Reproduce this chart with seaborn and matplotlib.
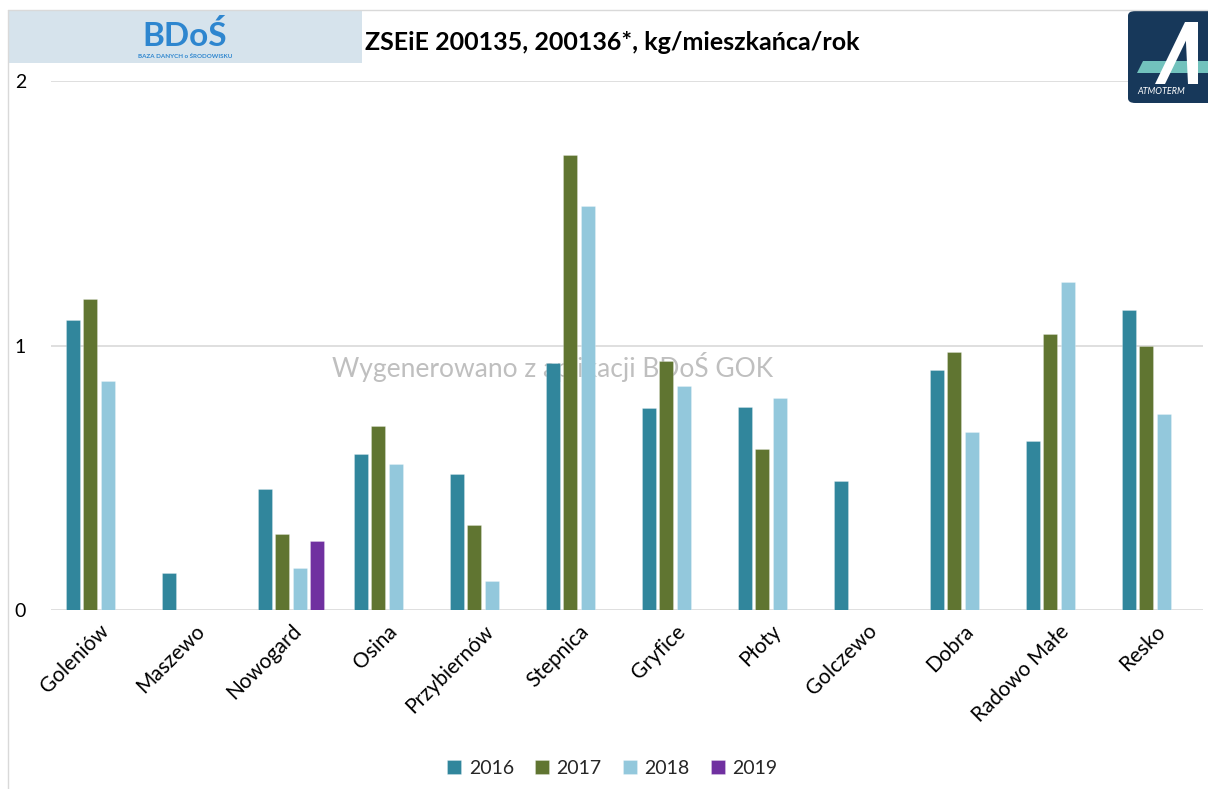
import numpy as np
import pandas as pd
import matplotlib.pyplot as plt
import seaborn as sns
from matplotlib.patches import Rectangle, FancyBboxPatch, Polygon

## Data (kg/mieszkanca/rok), NaN = no bar
gminy = ["Goleniów", "Maszewo", "Nowogard", "Osina", "Przybiernów", "Stepnica",
         "Gryfice", "Płoty", "Golczewo", "Dobra", "Radowo Małe", "Resko"]
years = ["2016", "2017", "2018", "2019"]
v2016 = [1.095, 0.14, 0.458, 0.591, 0.515, 0.932, 0.765, 0.769, 0.489, 0.909, 0.640, 1.136]
v2017 = [1.174, np.nan, 0.288, 0.697, 0.322, 1.720, 0.943, 0.610, np.nan, 0.977, 1.042, 1.000]
v2018 = [0.864, np.nan, 0.159, 0.553, 0.110, 1.527, 0.845, 0.803, np.nan, 0.674, 1.239, 0.742]
v2019 = [np.nan, np.nan, 0.261, np.nan, np.nan, np.nan, np.nan, np.nan, np.nan, np.nan, np.nan, np.nan]
colors = ["#31869C", "#607531", "#93C8DC", "#7030A0"]

df = pd.DataFrame({"gmina": gminy, "2016": v2016, "2017": v2017, "2018": v2018, "2019": v2019})
df = df.melt(id_vars="gmina", var_name="rok", value_name="wartosc").dropna()

sns.set_style("white")
plt.rcParams['font.family'] = ['Lato', 'DejaVu Sans']

fig = plt.figure(figsize=(12.08, 7.89), dpi=100)
ax = fig.add_axes([0.0422, 0.2269, 0.9537, 0.6704])

# watermark behind bars
ax.text(0.435, 0.459, "Wygenerowano z aplikacji BDoŚ GOK", transform=ax.transAxes,
        ha="center", va="center", fontsize=19, color="#BFBFBF", zorder=0.5)

sns.barplot(data=df, x="gmina", y="wartosc", hue="rok", order=gminy, hue_order=years,
            palette=colors, width=0.73, gap=0.2, edgecolor=(1, 1, 1, 0.35), linewidth=0.5,
            saturation=1, ax=ax, zorder=2)

ax.set_ylim(0, 2)
ax.set_xlim(-0.5, len(gminy) - 0.5)
ax.set_yticks([0, 1, 2])
ax.yaxis.grid(True, color="#D9D9D9", linewidth=1.2)
ax.set_axisbelow(True)
for s in ax.spines.values():
    s.set_visible(False)
ax.tick_params(axis="both", length=0, colors="#000000")
ax.tick_params(axis="y", pad=18, labelsize=14)
ax.tick_params(axis="x", pad=8, labelsize=15)
ax.set_xlabel("")
ax.set_ylabel("")
plt.setp(ax.get_xticklabels(), rotation=45, ha="right", rotation_mode="anchor")

leg = ax.legend(loc="center", bbox_to_anchor=(0.507, 1 - 768 / 789), bbox_transform=fig.transFigure,
                ncol=4, frameon=False, fontsize=14, handlelength=0.7, handleheight=0.7,
                columnspacing=1.1, handletextpad=0.4)

# title
fig.text(0.507, 0.946, "ZSEiE 200135, 200136*, kg/mieszkańca/rok", ha="center", va="center",
         fontsize=18, fontweight="bold", color="#000000")

# frame lines of the slide
fig.add_artist(plt.Line2D([8 / 1208, 8 / 1208], [0, 1 - 10 / 789], color="#D9D9D9", lw=1))
fig.add_artist(plt.Line2D([8 / 1208, 1], [1 - 10 / 789, 1 - 10 / 789], color="#D9D9D9", lw=1))

# BDoS logo box
fig.add_artist(Rectangle((8 / 1208, 1 - 63 / 789), 354 / 1208, 53 / 789,
                         transform=fig.transFigure, facecolor="#D6E3EC", edgecolor="none"))
fig.text(185 / 1208, 1 - 36 / 789, "BDoŚ", ha="center", va="center", fontsize=24,
         fontweight="bold", color="#2E86CF")
fig.text(185 / 1208, 1 - 56 / 789, "BAZA DANYCH o ŚRODOWISKU", ha="center", va="center",
         fontsize=4.5, fontweight="bold", color="#2E86CF")

# Atmoterm logo box
fig.add_artist(FancyBboxPatch((1128 / 1208, 1 - 103 / 789), 90 / 1208, 92 / 789,
                              boxstyle="round,pad=0,rounding_size=0.006",
                              transform=fig.transFigure, facecolor="#17385A", edgecolor="none"))
fig.add_artist(Polygon([(1137 / 1208, 1 - 73 / 789), (1208 / 1208, 1 - 73 / 789),
                        (1208 / 1208, 1 - 61 / 789), (1143 / 1208, 1 - 61 / 789)],
                       closed=True, transform=fig.transFigure, facecolor="#72C2BD", edgecolor="none"))
fig.add_artist(Polygon([(1155 / 1208, 1 - 84 / 789), (1165 / 1208, 1 - 84 / 789),
                        (1195 / 1208, 1 - 22 / 789), (1185 / 1208, 1 - 22 / 789)],
                       closed=True, transform=fig.transFigure, facecolor="white", edgecolor="none"))
fig.add_artist(Polygon([(1185 / 1208, 1 - 22 / 789), (1198 / 1208, 1 - 22 / 789),
                        (1198 / 1208, 1 - 84 / 789), (1188 / 1208, 1 - 84 / 789)],
                       closed=True, transform=fig.transFigure, facecolor="white", edgecolor="none"))
fig.text(1137 / 1208, 1 - 91 / 789, "ATMOTERM", ha="left", va="center", fontsize=6.5,
         fontstyle="italic", color="white")

fig.savefig("out.png", dpi=100)
